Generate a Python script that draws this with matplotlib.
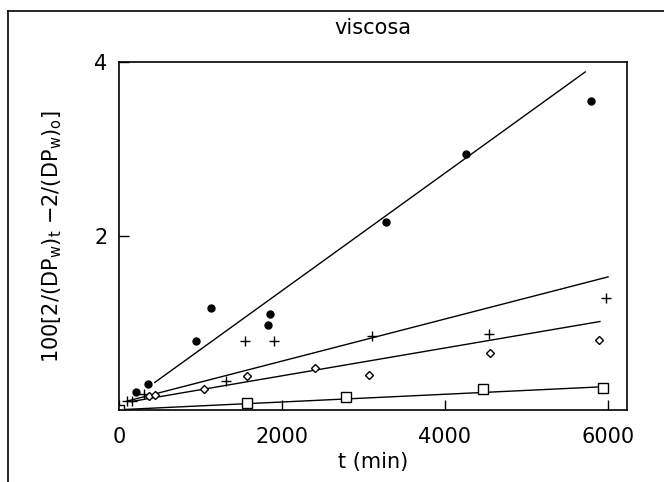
import numpy as np
import matplotlib
matplotlib.use("Agg")
import matplotlib.pyplot as plt
from matplotlib.lines import Line2D

# filled circles
t_dot = [0, 210, 355, 945, 1130, 1830, 1855, 3275, 4260, 5790]
y_dot = [0.0, 0.21, 0.30, 0.80, 1.18, 0.98, 1.10, 2.16, 2.94, 3.55]
# plus
t_plus = [100, 160, 305, 1315, 1545, 1900, 3105, 4540, 5975]
y_plus = [0.11, 0.11, 0.19, 0.33, 0.79, 0.79, 0.85, 0.88, 1.29]
# diamonds
t_dia = [370, 445, 1045, 1570, 2405, 3065, 4550, 5890]
y_dia = [0.16, 0.18, 0.24, 0.39, 0.48, 0.40, 0.66, 0.81]
# squares
t_sq = [0, 1570, 2785, 4465, 5940]
y_sq = [0.0, 0.08, 0.15, 0.24, 0.26]

# fitted lines: (intercept, slope, t start, t end)
fit_dot = (0.021, 0.000676, 440, 5720)
fit_plus = (0.08, 0.000242, 100, 6000)
fit_dia = (0.075, 0.00016, 150, 5900)
fit_sq = (0.005, 0.0000445, 60, 5950)

fig = plt.figure(figsize=(6.64, 4.82), dpi=100)
ax = fig.add_axes([0.179, 0.149, 0.765, 0.722])

for a, b, t0, t1 in [fit_dot, fit_plus, fit_dia, fit_sq]:
    tt = np.array([t0, t1])
    ax.plot(tt, a + b * tt, color='k', lw=1.0)

ax.plot(t_dot, y_dot, 'o', color='k', ms=5)
ax.plot(t_plus, y_plus, '+', color='k', ms=7, mew=1.0)
ax.plot(t_dia, y_dia, 'D', mfc='white', mec='k', ms=4, mew=1.0)
ax.plot(t_sq, y_sq, 's', mfc='white', mec='k', ms=7, mew=1.0)

ax.set_xlim(0, 6230)
ax.set_ylim(0, 4)
ax.set_xticks([0, 2000, 4000, 6000])
ax.set_yticks([2, 4])
ax.tick_params(direction='in', length=7, width=1, labelsize=15, pad=8)
ax.tick_params(axis='x', pad=12)
for s in ax.spines.values():
    s.set_linewidth(1.2)

ax.set_xlabel('t (min)', fontsize=15, labelpad=4)
ax.set_ylabel(r'100[2/(DP$_{\mathrm{w}}$)$_{\mathrm{t}}$ $-$2/(DP$_{\mathrm{w}}$)$_{\mathrm{o}}$]',
              fontsize=15, labelpad=22)
ax.set_title('viscosa', fontsize=15, pad=20)

# outer frame
fig.add_artist(Line2D([8/664, 8/664], [0, 1 - 11/482], transform=fig.transFigure, color='k', lw=1.2))
fig.add_artist(Line2D([8/664, 1], [1 - 11/482, 1 - 11/482], transform=fig.transFigure, color='k', lw=1.2))

fig.savefig('out.png', dpi=100)
